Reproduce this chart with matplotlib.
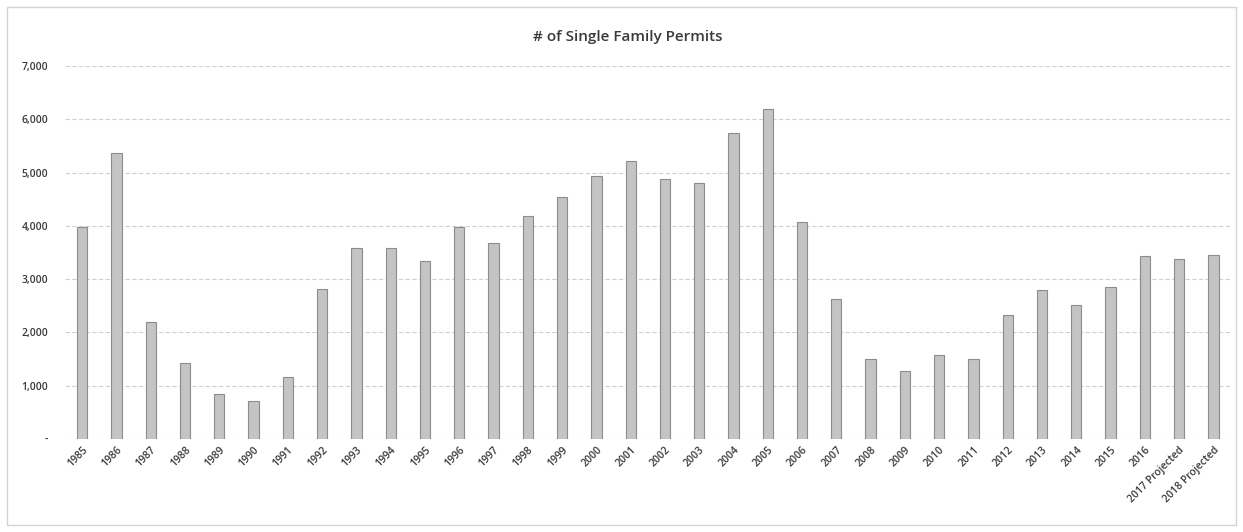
import matplotlib.pyplot as plt
from matplotlib.patches import Rectangle
from matplotlib.ticker import FuncFormatter

years = ['1985', '1986', '1987', '1988', '1989', '1990', '1991', '1992', '1993',
         '1994', '1995', '1996', '1997', '1998', '1999', '2000', '2001', '2002',
         '2003', '2004', '2005', '2006', '2007', '2008', '2009', '2010', '2011',
         '2012', '2013', '2014', '2015', '2016', '2017 Projected', '2018 Projected']
permits = [3980, 5370, 2200, 1420, 850, 720, 1170, 2820, 3590,
           3590, 3340, 3980, 3670, 4180, 4540, 4940, 5210, 4870,
           4800, 5740, 6200, 4080, 2620, 1500, 1270, 1580, 1500,
           2330, 2790, 2520, 2860, 3440, 3380, 3450]

plt.rcParams['font.family'] = ['Open Sans', 'DejaVu Sans']

fig = plt.figure(figsize=(12.43, 5.32), dpi=100)
ax = fig.add_axes([0.0523, 0.1748, 0.9377, 0.7012])

x = list(range(len(years)))
ax.bar(x, permits, width=0.3, color='#c4c4c4', edgecolor='#8c8c8c', linewidth=0.8, zorder=3)

ax.set_xlim(-0.5, len(years) - 0.5)
ax.set_ylim(0, 7000)
ax.set_yticks(range(0, 7001, 1000))
ax.yaxis.set_major_formatter(FuncFormatter(lambda v, p: '-' if v == 0 else f'{int(v):,}'))
ax.grid(axis='y', color='#d0d0d0', linestyle=(0, (4, 2)), linewidth=0.8, zorder=0)

ax.set_xticks(x)
ax.set_xticklabels(years, rotation=45, ha='right', rotation_mode='anchor', fontsize=7.5,
                   color='#3a3a3a', fontweight='semibold')
for lbl in ax.get_yticklabels():
    lbl.set_fontweight('semibold')
ax.tick_params(axis='y', labelsize=7.5, colors='#3a3a3a', length=0, pad=12)
ax.tick_params(axis='x', length=0, pad=4)
for s in ax.spines.values():
    s.set_visible(False)

ax.set_title('# of Single Family Permits', fontsize=11, color='#3a3a3a', fontweight='semibold',
             pad=18, x=0.483)

fig.patches.append(Rectangle((7 / 1243, 7 / 532), 1229 / 1243, 518 / 532, transform=fig.transFigure,
                             fill=False, edgecolor='#d4d4d4', linewidth=1))

fig.savefig('out.png', dpi=100)
